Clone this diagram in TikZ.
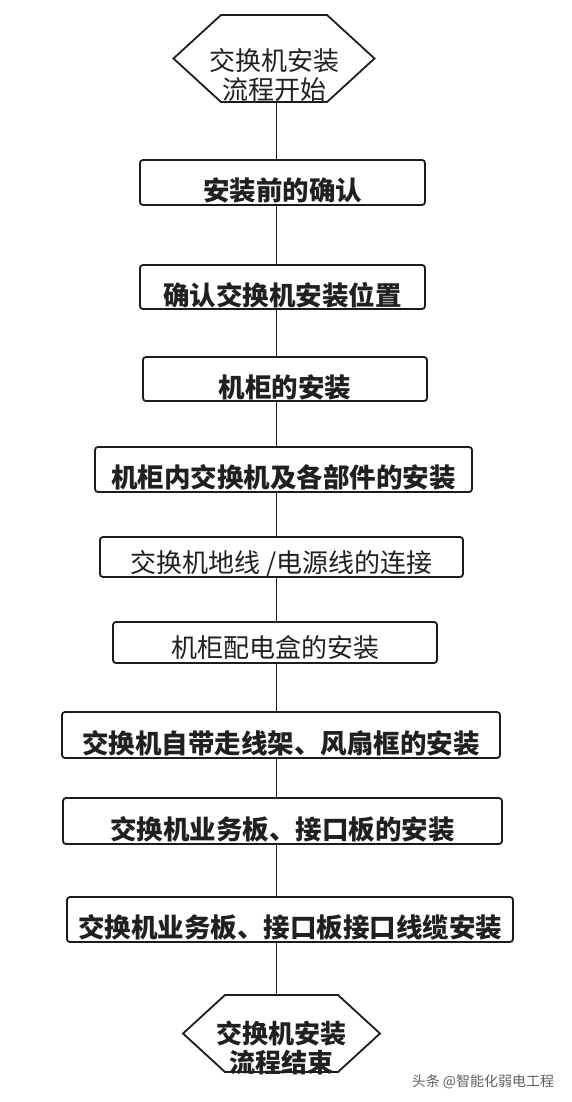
\documentclass[tikz,border=0pt]{standalone}
\usepackage{fontspec}
\newfontfamily\cjk{Noto Sans CJK SC}
\usetikzlibrary{shapes,positioning}
\definecolor{flline}{RGB}{28,28,28}
\definecolor{fltext}{RGB}{32,32,32}
\definecolor{flmark}{RGB}{95,95,95}
\tikzstyle{stepbox} = [rectangle, rounded corners=3pt, draw=flline, line width=1.8pt, fill=white, inner sep=0pt, minimum height=45pt, text height=36pt, text depth=0pt, text=fltext, font=\cjk\bfseries\fontsize{26.5}{30}\selectfont]
\tikzstyle{lightbox} = [stepbox, text height=30pt, font=\cjk\fontsize{26}{30}\selectfont]
\tikzstyle{terminal} = [signal, signal to=west and east, signal pointer angle=85, draw=flline, line width=1.8pt, fill=white, inner sep=0pt]
\tikzstyle{link} = [line width=1.8pt, color=flline]

\begin{document}
\begin{tikzpicture}
\useasboundingbox[fill=white] (0,0) rectangle (572pt,-1102pt);
\coordinate (spine) at (276.5pt,0);

% Start
\node (start) [terminal, minimum width=201pt, minimum height=87pt, label={[align=center, yshift=-17pt, text=fltext, font=\cjk\fontsize{26}{29}\selectfont]center:{交换机安装\\流程开始}}] at (274pt,-58.5pt) {};

% Steps
\node (precheck) [stepbox, below of=start, node distance=124pt, xshift=8.5pt, minimum width=285pt] {安装前的确认};
\node (position) [stepbox, below of=precheck, node distance=104.5pt, minimum width=285pt, minimum height=44pt] {确认交换机安装位置};
\node (cabinet) [stepbox, below of=position, node distance=92pt, xshift=2.5pt, minimum width=284pt, minimum height=44pt] {机柜的安装};
\node (parts) [stepbox, below of=cabinet, node distance=90.5pt, xshift=-1.5pt, minimum width=377pt] {机柜内交换机及各部件的安装};
\node (power) [lightbox, below of=parts, node distance=87.5pt, xshift=-2pt, minimum width=363pt, minimum height=40pt] {交换机地线\ /电源线的连接};
\node (pdu) [lightbox, below of=power, node distance=85.5pt, xshift=-6.5pt, minimum width=324pt, minimum height=41pt] {机柜配电盒的安装};
\node (rack) [stepbox, below of=pdu, node distance=92.5pt, xshift=6pt, minimum width=438pt, minimum height=46pt] {交换机自带走线架、风扇框的安装};
\node (boards) [stepbox, below of=rack, node distance=86pt, xshift=1.5pt, minimum width=439pt, minimum height=46pt] {交换机业务板、接口板的安装};
\node (cables) [stepbox, below of=boards, node distance=98.5pt, xshift=7.5pt, minimum width=446pt] {交换机业务板、接口板接口线缆安装};

% End
\node (finish) [terminal, below of=cables, node distance=114pt, xshift=-8.5pt, minimum width=197pt, minimum height=77pt, label={[align=center, yshift=-14pt, text=fltext, font=\cjk\bfseries\fontsize{26}{29}\selectfont]center:{交换机安装\\流程结束}}] {};

% Links
\draw[link] (start.south -| spine) -- (precheck.north -| spine);
\draw[link] (precheck.south -| spine) -- (position.north -| spine);
\draw[link] (position.south -| spine) -- (cabinet.north -| spine);
\draw[link] (cabinet.south -| spine) -- (parts.north -| spine);
\draw[link] (parts.south -| spine) -- (power.north -| spine);
\draw[link] (power.south -| spine) -- (pdu.north -| spine);
\draw[link] (pdu.south -| spine) -- (rack.north -| spine);
\draw[link] (rack.south -| spine) -- (boards.north -| spine);
\draw[link] (boards.south -| spine) -- (cables.north -| spine);
\draw[link] (cables.south -| spine) -- (finish.north -| spine);

% Watermark
\node (wm) [text=flmark, font=\cjk\fontsize{14}{16}\selectfont] at (483pt,-1082pt) {头条 @智能化弱电工程};
\end{tikzpicture}
\end{document}
